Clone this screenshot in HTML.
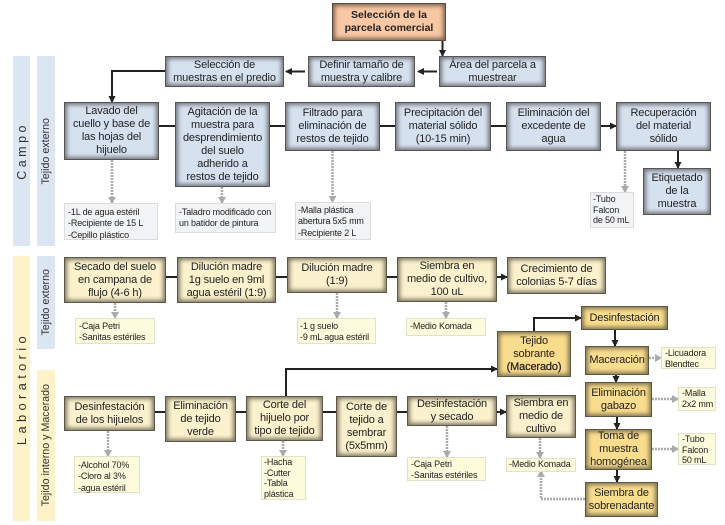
<!DOCTYPE html>
<html lang="es"><head><meta charset="utf-8"><title>Diagrama</title>
<style>
html,body{margin:0;padding:0;background:#fff}
#p{position:relative;width:725px;height:525px;overflow:hidden;font-family:"Liberation Sans",sans-serif;color:#222;background:#fff}
#p svg{position:absolute;left:0;top:0}
.x{position:absolute;box-sizing:border-box;display:flex;align-items:center;justify-content:center;text-align:center;font-size:11px;letter-spacing:-.15px;line-height:13px}
.x>div{display:block}
.b{background:#d6e1ef;box-shadow:inset 0 0 0 1px #555,inset 0 0 4px 3px #74777d}
.y{background:#fbf1cd;box-shadow:inset 0 0 0 1px #5d5848,inset 0 0 4px 3px #7f7962}
.g{background:#f9dc8d;box-shadow:inset 0 0 0 1px #5d5640,inset 0 0 4px 3px #827650}
.o{background:#f8c8a4;box-shadow:inset 0 0 0 1px #5c4a3c,inset 0 0 4px 3px #7f6450;font-weight:bold;font-size:10.5px;letter-spacing:0}
.n{position:absolute;box-sizing:border-box;font-size:9px;letter-spacing:-.15px;line-height:11.3px;padding:3px 3px;white-space:nowrap;border:1px solid #dcdcdc;background:#f2f3f5}
.m{border-color:#e2e2c8;background:#fcfbdc}
.s{position:absolute;display:flex;align-items:center;justify-content:center;color:#333}
.s span{writing-mode:vertical-rl;transform:rotate(180deg);white-space:nowrap}
</style></head><body><div id="p">
<svg width="725" height="525" viewBox="0 0 725 525">
<defs>
<marker id="a" markerUnits="userSpaceOnUse" markerWidth="8" markerHeight="8" refX="6" refY="4" orient="auto"><path d="M0 0.5L7 4L0 7.5z" fill="#222"/></marker>
<marker id="d" markerUnits="userSpaceOnUse" markerWidth="8" markerHeight="8" refX="6" refY="4" orient="auto"><path d="M0 0L7 4L0 8z" fill="#aaa"/></marker>
</defs>
<g fill="none" stroke="#222" stroke-width="2">
<path d="M442.5 41V56" marker-end="url(#a)"/>
<path d="M437 71.5H418" marker-end="url(#a)"/>
<path d="M305 71.5H286" marker-end="url(#a)"/>
<path d="M165 71H112V102" marker-end="url(#a)"/>
<path d="M159 126H175M270 126H285M380 126H395M491 126H506"/>
<path d="M601 126H616" marker-end="url(#a)"/>
<path d="M678 151V168" marker-end="url(#a)"/>
<path d="M166 277H177M276 277H287M387 277H397"/>
<path d="M497 277H507" marker-end="url(#a)"/>
<path d="M286 396V369H497" marker-end="url(#a)"/>
<path d="M534 331V318H581" marker-end="url(#a)"/>
<path d="M615 330V346" marker-end="url(#a)"/>
<path d="M616 375V382" marker-end="url(#a)"/>
<path d="M617 417V429" marker-end="url(#a)"/>
<path d="M617 470V482" marker-end="url(#a)"/>
<path d="M155 412H165M236 412H246M323 412H336M397 412H407"/>
<path d="M497 412H506" marker-end="url(#a)"/>
</g>
<g fill="none" stroke="#aaa" stroke-width="2.5" stroke-dasharray="2 1">
<path d="M112 160V203" marker-end="url(#d)"/>
<path d="M222 187V203" marker-end="url(#d)"/>
<path d="M332.5 151V202" marker-end="url(#d)"/>
<path d="M625 151V192" marker-end="url(#d)"/>
<path d="M115 303V318" marker-end="url(#d)"/>
<path d="M337 293V318" marker-end="url(#d)"/>
<path d="M446 302V318" marker-end="url(#d)"/>
<path d="M649 358H661" marker-end="url(#d)"/>
<path d="M652 399H678" marker-end="url(#d)"/>
<path d="M652 449H678" marker-end="url(#d)"/>
<path d="M585 499H541V471" marker-end="url(#d)"/>
<path d="M108 431V456" marker-end="url(#d)"/>
<path d="M283 441V456" marker-end="url(#d)"/>
<path d="M447 426V457" marker-end="url(#d)"/>
<path d="M540 438V458" marker-end="url(#d)"/>
</g>
</svg>

<div class="s" style="left:13px;top:56px;width:17px;height:190px;background:#dce6f2;font-size:12.5px;letter-spacing:3.5px"><span>Campo</span></div>
<div class="s" style="left:37px;top:56px;width:18px;height:190px;background:#dce6f2;font-size:10.7px"><span>Tejido externo</span></div>
<div class="s" style="left:13px;top:256px;width:17px;height:265px;background:#fdf2c8;font-size:13px;letter-spacing:4.3px"><span>Laboratorio</span></div>
<div class="s" style="left:37px;top:256px;width:18px;height:93px;background:#dce6f2;font-size:10.7px"><span>Tejido externo</span></div>
<div class="s" style="left:37px;top:370px;width:18px;height:151px;background:#fdf2c8;font-size:10.7px"><span>Tejido interno y Macerado</span></div>

<div class="x o" style="left:332px;top:3px;width:114px;height:38px"><div>Selección de la<br>parcela comercial</div></div>
<div class="x b" style="left:439px;top:56px;width:107px;height:31px"><div>Área del parcela a<br>muestrear</div></div>
<div class="x b" style="left:308px;top:56px;width:107px;height:31px"><div>Definir tamaño de<br>muestra y calibre</div></div>
<div class="x b" style="left:165px;top:56px;width:119px;height:31px"><div>Selección de<br>muestras en el predio</div></div>

<div class="x b" style="left:64px;top:102px;width:95px;height:58px"><div>Lavado del<br>cuello y base de<br>las hojas del<br>hijuelo</div></div>
<div class="x b" style="left:175px;top:102px;width:95px;height:85px"><div>Agitación de la<br>muestra para<br>desprendimiento<br>del suelo<br>adherido a<br>restos de tejido</div></div>
<div class="x b" style="left:285px;top:102px;width:95px;height:49px"><div>Filtrado para<br>eliminación de<br>restos de tejido</div></div>
<div class="x b" style="left:395px;top:102px;width:96px;height:49px"><div>Precipitación del<br>material sólido<br>(10-15 min)</div></div>
<div class="x b" style="left:506px;top:102px;width:95px;height:49px"><div>Eliminación del<br>excedente de<br>agua</div></div>
<div class="x b" style="left:616px;top:102px;width:95px;height:49px"><div>Recuperación<br>del material<br>sólido</div></div>
<div class="x b" style="left:643px;top:168px;width:68px;height:47px"><div>Etiquetado<br>de la<br>muestra</div></div>

<div class="n" style="left:64px;top:203px;width:94px;height:37px">-1L de agua estéril<br>-Recipiente de 15 L<br>-Cepillo plástico</div>
<div class="n" style="left:175px;top:203px;width:101px;height:30px">-Taladro modificado con<br>un batidor de pintura</div>
<div class="n" style="left:295px;top:202px;width:76px;height:38px;padding:2px 2px;">-Malla plástica<br>abertura 5x5 mm<br>-Recipiente 2 L</div>
<div class="n" style="left:590px;top:192px;width:44px;height:36px;padding:1px 2px;line-height:10.5px">-Tubo<br>Falcon<br>de 50 mL</div>

<div class="x y" style="left:64px;top:257px;width:102px;height:46px"><div>Secado del suelo<br>en campana de<br>flujo (4-6 h)</div></div>
<div class="x y" style="left:177px;top:257px;width:99px;height:46px"><div>Dilución madre<br>1g suelo en 9ml<br>agua estéril (1:9)</div></div>
<div class="x y" style="left:287px;top:257px;width:100px;height:36px"><div>Dilución madre<br>(1:9)</div></div>
<div class="x y" style="left:397px;top:257px;width:100px;height:45px"><div>Siembra en<br>medio de cultivo,<br>100 uL</div></div>
<div class="x y" style="left:507px;top:257px;width:99px;height:37px"><div>Crecimiento de<br>colonias 5-7 días</div></div>

<div class="n m" style="left:75px;top:318px;width:80px;height:26px;padding:2px 3px">-Caja Petri<br>-Sanitas estériles</div>
<div class="n m" style="left:297px;top:318px;width:79px;height:26px;padding:2px 2px">-1 g suelo<br>-9 mL agua estéril</div>
<div class="n m" style="left:406px;top:318px;width:80px;height:18px;padding:2px 3px">-Medio Komada</div>

<div class="x y" style="left:64px;top:396px;width:91px;height:35px"><div>Desinfestación<br>de los hijuelos</div></div>
<div class="x y" style="left:165px;top:396px;width:71px;height:46px"><div>Eliminación<br>de tejido<br>verde</div></div>
<div class="x y" style="left:246px;top:396px;width:77px;height:45px"><div>Corte del<br>hijuelo por<br>tipo de tejido</div></div>
<div class="x y" style="left:336px;top:396px;width:61px;height:61px"><div>Corte de<br>tejido a<br>sembrar<br>(5x5mm)</div></div>
<div class="x y" style="left:407px;top:396px;width:90px;height:30px"><div>Desinfestación<br>y secado</div></div>
<div class="x y" style="left:506px;top:395px;width:70px;height:43px"><div>Siembra en<br>medio de<br>cultivo</div></div>

<div class="n m" style="left:74px;top:456px;width:66px;height:37px">-Alcohol 70%<br>-Cloro al 3%<br>-agua estéril</div>
<div class="n m" style="left:261px;top:456px;width:45px;height:44px;padding:0 2px;line-height:10.5px">-Hacha<br>-Cutter<br>-Tabla<br>plástica</div>
<div class="n m" style="left:407px;top:457px;width:79px;height:24px;padding:1px 3px">-Caja Petri<br>-Sanitas estériles</div>
<div class="n m" style="left:506px;top:458px;width:70px;height:14px;padding:0 2px;line-height:11px">-Medio Komada</div>

<div class="x g" style="left:497px;top:331px;width:74px;height:46px"><div>Tejido<br>sobrante<br><span style="-webkit-text-stroke:.25px #222">(Macerado)</span></div></div>
<div class="x g" style="left:581px;top:306px;width:87px;height:24px"><div>Desinfestación</div></div>
<div class="x g" style="left:585px;top:346px;width:64px;height:29px"><div>Maceración</div></div>
<div class="x g" style="left:585px;top:382px;width:67px;height:35px"><div>Eliminación<br>gabazo</div></div>
<div class="x g" style="left:585px;top:429px;width:67px;height:41px"><div>Toma de<br>muestra<br>homogénea</div></div>
<div class="x g" style="left:585px;top:482px;width:73px;height:35px"><div>Siembra de<br>sobrenadante</div></div>

<div class="n m" style="left:661px;top:347px;width:55px;height:22px;padding:0 3px;line-height:11px">-Licuadora<br>Blendtec</div>
<div class="n m" style="left:678px;top:387px;width:38px;height:24px;padding:0 3px;line-height:11px">-Malla<br>2x2 mm</div>
<div class="n m" style="left:678px;top:433px;width:38px;height:32px;padding:0 3px;line-height:10.5px">-Tubo<br>Falcon<br>50 mL</div>
</div></body></html>
